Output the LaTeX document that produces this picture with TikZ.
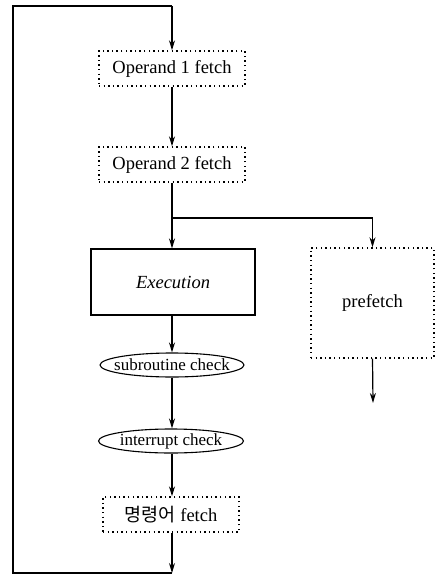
\documentclass[tikz,border=0pt]{standalone}
\usepackage{fontspec}
\setmainfont{Liberation Serif}
\newfontfamily\korfont{Noto Sans CJK KR}
\usetikzlibrary{arrows.meta,shapes.geometric}

\tikzset{
  dotbox/.style={draw,dash pattern=on 1.4pt off 3.2pt,line width=1.4pt,inner sep=0pt},
  solidbox/.style={draw,line width=1.1pt,inner sep=0pt},
  checkoval/.style={ellipse,draw,line width=1.1pt,inner xsep=-20pt,inner ysep=-5pt,
    font=\fontsize{17}{20}\selectfont},
  flow/.style={line width=1.2pt,-{Stealth[length=10pt,width=6pt]}},
  loopline/.style={line width=1.2pt}
}

\begin{document}
\begin{tikzpicture}[x=1pt,y=-1pt,font=\fontsize{18.5}{22}\selectfont]
\path[use as bounding box] (0,0) rectangle (438,577);
% boxes of the main path
\node[dotbox,minimum width=146pt,minimum height=35pt] (op1) at (172,68.5) {Operand 1 fetch};
\node[dotbox,minimum width=146pt,minimum height=35pt] (op2) at (172,164.5) {Operand 2 fetch};
\node[solidbox,minimum width=164pt,minimum height=66pt] (exec) at (173,282) {\itshape Execution};
\node[dotbox,minimum width=123pt,minimum height=110pt] (pf) at (372.5,303) {prefetch};
\node[checkoval,minimum width=144pt,minimum height=24pt] (sub) at (172,365) {subroutine check};
\node[checkoval,minimum width=145pt,minimum height=24pt] (intr) at (171,441) {interrupt check};
\node[dotbox,minimum width=136pt,minimum height=35pt] (cmd) at (171,514.5) {{\korfont 명령어} fetch};
% corner points of the loop
\coordinate (top) at (172,6);
\coordinate (topleft) at (13,6);
\coordinate (botleft) at (13,573);
\coordinate (bot) at (172,573);
\coordinate (br) at (172,218);
\coordinate (pfend) at (373,403);
% connectors
\draw[flow] (top) -- (op1);
\draw[flow] (op1) -- (op2);
\draw[flow] (op2.south -| br) -- (exec.north -| br);
\draw[flow] (br) -| (pf.north);
\draw[flow] (pf.south) -- (pfend);
\draw[flow] (exec.south -| br) -- (sub.north -| br);
\draw[flow] (sub.south -| br) -- (intr.north -| br);
\draw[flow] (intr.south -| br) -- (cmd.north -| br);
\draw[flow] (cmd.south -| br) -- (bot);
\draw[loopline] (bot) -- (botleft) -- (topleft) -- (top);
\end{tikzpicture}
\end{document}
